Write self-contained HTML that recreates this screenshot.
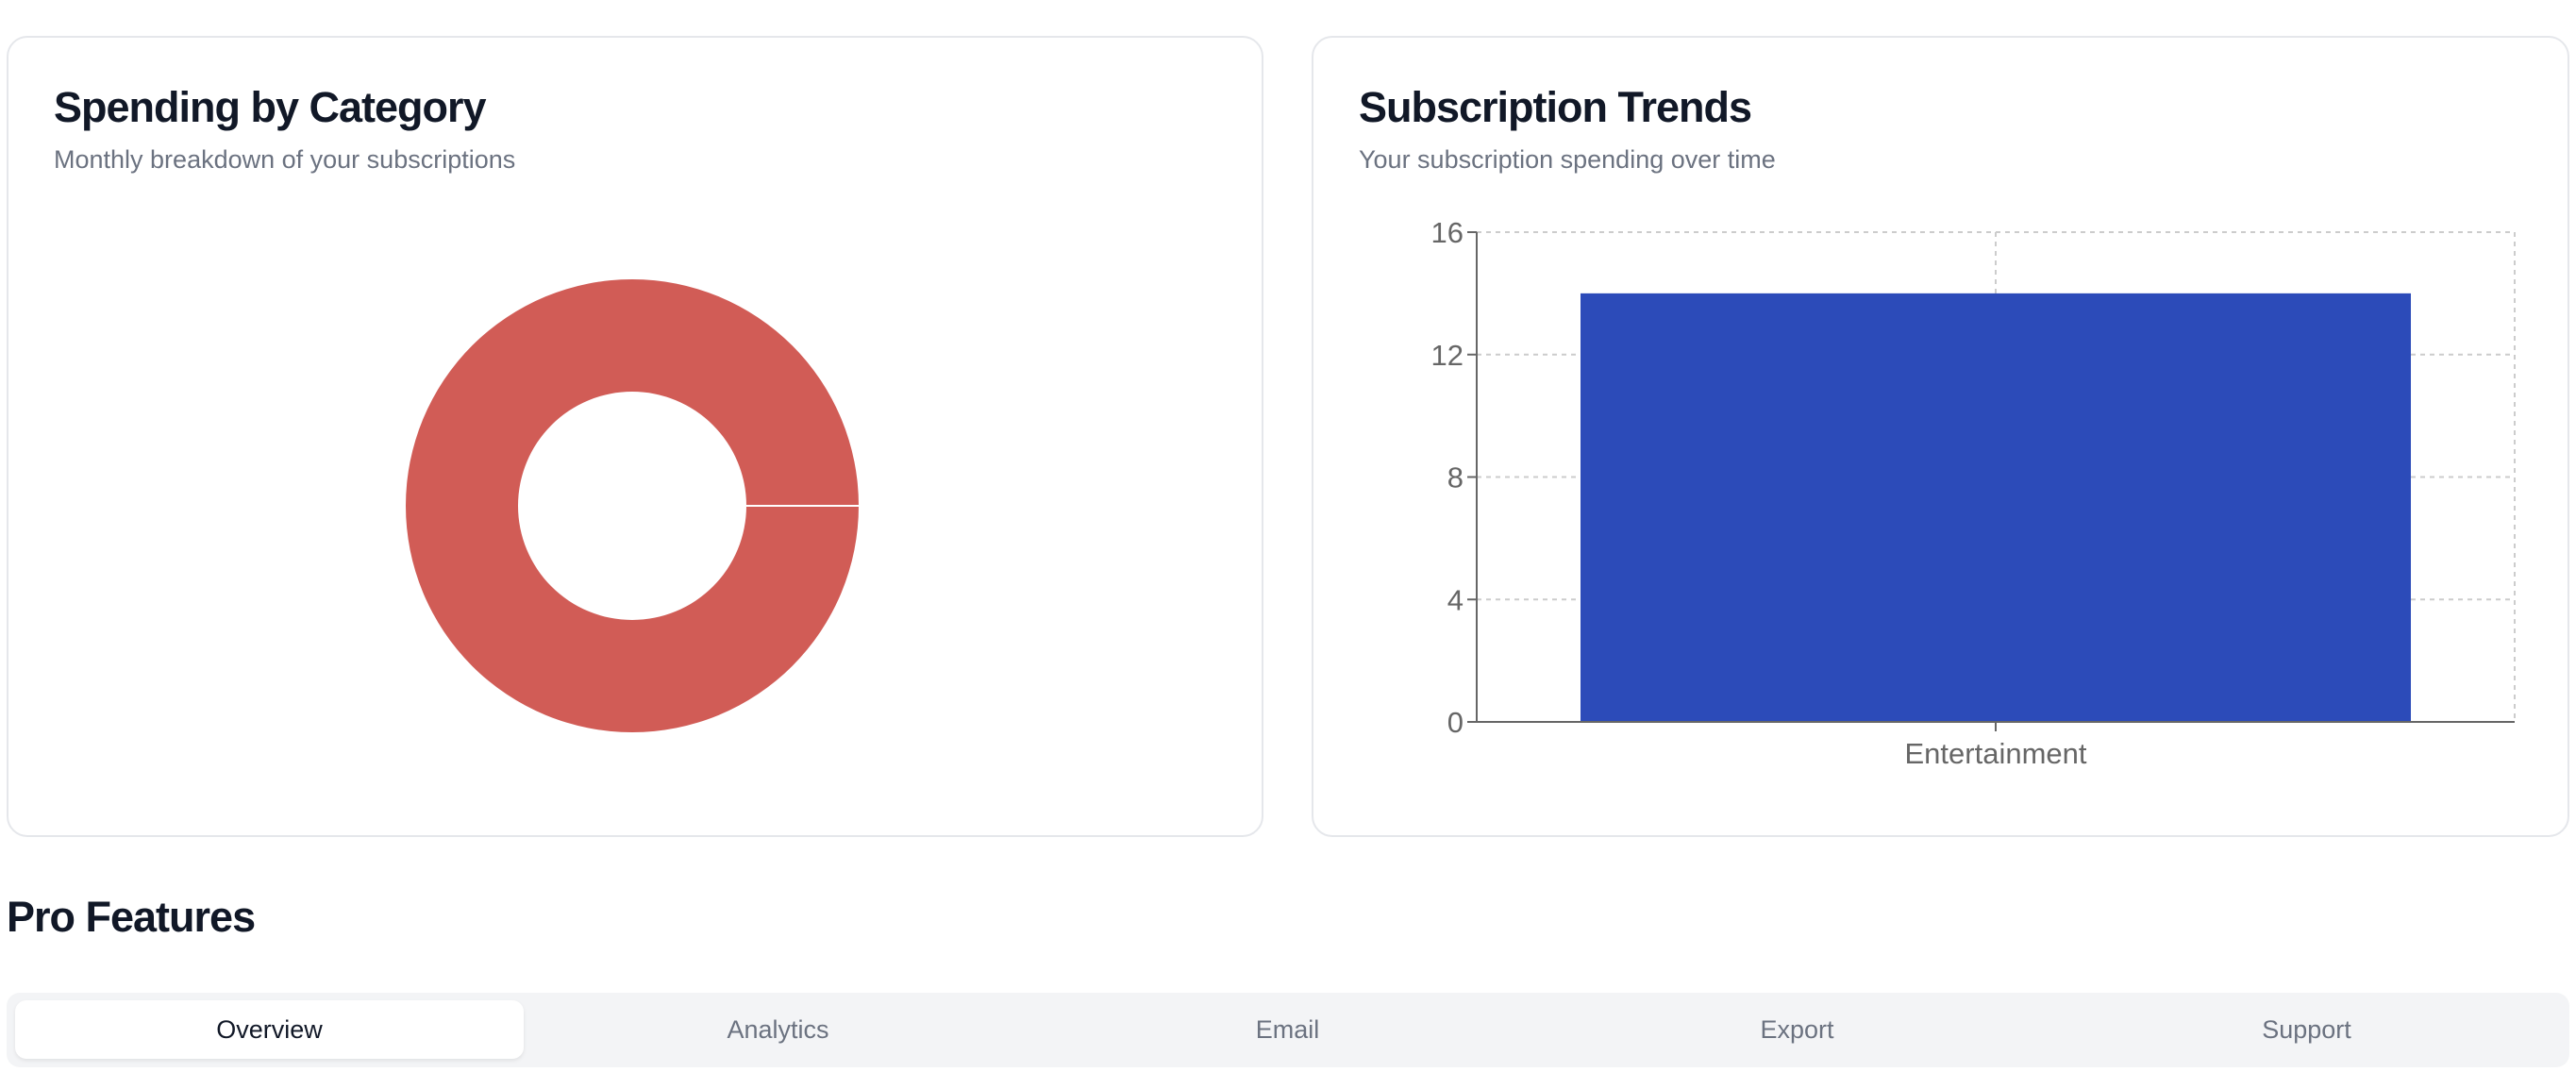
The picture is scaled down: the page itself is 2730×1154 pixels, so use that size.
<!DOCTYPE html>
<html><head><meta charset="utf-8"><style>
body{margin:0;width:2730px;height:1154px;background:#fff;font-family:"Liberation Sans",sans-serif;position:relative;overflow:hidden}
.card{position:absolute;top:38px;height:849px;border:2px solid #e5e7eb;border-radius:22px;background:#fff;box-sizing:border-box}
.t{position:absolute;left:48px;font-size:45px;font-weight:bold;color:#111827;letter-spacing:-1px;margin:0}
.s{position:absolute;left:48px;top:114px;font-size:27px;color:#6b7280}
.tab{position:absolute;top:8px;height:62px;width:539px;line-height:62px;text-align:center;font-size:27px;color:#6b7280}
</style></head><body>
<div class="card" style="left:7px;width:1332px">
<h2 class="t" style="top:48px">Spending by Category</h2>
<div class="s">Monthly breakdown of your subscriptions</div>
</div>
<div class="card" style="left:1390px;width:1333px">
<h2 class="t" style="top:48px">Subscription Trends</h2>
<div class="s">Your subscription spending over time</div>
</div>
<svg id="svg" width="2730" height="1154" style="position:absolute;left:0;top:0"></svg>
<div style="position:absolute;left:7px;top:946px;font-size:45px;font-weight:bold;color:#111827;letter-spacing:-1px">Pro Features</div>
<div style="position:absolute;left:7px;top:1052px;width:2716px;height:79px;background:#f3f4f6;border-radius:14px">
<div class="tab" style="left:9px;background:#fff;border-radius:12px;color:#111827;box-shadow:0 2px 4px rgba(0,0,0,.08)">Overview</div>
<div class="tab" style="left:548px">Analytics</div>
<div class="tab" style="left:1088px">Email</div>
<div class="tab" style="left:1628px">Export</div>
<div class="tab" style="left:2168px">Support</div>
</div>
<script>
const pieCategories=["Entertainment"];
const pieValues=[14];
const barCategories=["Entertainment"];
const barValues=[14];
const yTicks=[0,4,8,12,16];
const NS="http://www.w3.org/2000/svg";
const svg=document.getElementById('svg');
function mk(t,a){const e=document.createElementNS(NS,t);for(const k in a)e.setAttribute(k,a[k]);svg.appendChild(e);return e;}
// donut
const cx=670,cy=536,R=240,r=121;
const tot=pieValues.reduce((a,b)=>a+b,0);let ang=0;
pieValues.forEach((v,i)=>{
  const a0=ang,a1=ang+v/tot*2*Math.PI;ang=a1;
  let p;
  if(v/tot>=0.9999){
    p=`M${cx+R} ${cy}A${R} ${R} 0 1 1 ${cx-R} ${cy}A${R} ${R} 0 1 1 ${cx+R} ${cy}M${cx+r} ${cy}A${r} ${r} 0 1 0 ${cx-r} ${cy}A${r} ${r} 0 1 0 ${cx+r} ${cy}Z`;
  }else{
    const L=(a1-a0)>Math.PI?1:0;
    p=`M${cx+R*Math.cos(a0)} ${cy-R*Math.sin(a0)}A${R} ${R} 0 ${L} 0 ${cx+R*Math.cos(a1)} ${cy-R*Math.sin(a1)}L${cx+r*Math.cos(a1)} ${cy-r*Math.sin(a1)}A${r} ${r} 0 ${L} 1 ${cx+r*Math.cos(a0)} ${cy-r*Math.sin(a0)}Z`;
  }
  const e=mk('path',{d:p,fill:'#d15c56','fill-rule':'evenodd'});
  
  
  const l=mk('line',{x1:cx+r*Math.cos(a0),y1:cy-r*Math.sin(a0),x2:cx+R*Math.cos(a0),y2:cy-R*Math.sin(a0),stroke:'#fff','stroke-width':2});
  
  
});
// bar chart
const X0=1565,X1=2665,Y0=765,Y1=246,ymax=16;
const ys=v=>Y0-(v/ymax)*(Y0-Y1);
const bw=(X1-X0)/barCategories.length;
yTicks.forEach(t=>{
  if(t>0){const g=mk('line',{x1:X0,x2:X1,y1:ys(t),y2:ys(t),stroke:'#ccc','stroke-width':2,'stroke-dasharray':'5 5'});
  }
  const k=mk('line',{x1:X0-10,x2:X0,y1:ys(t),y2:ys(t),stroke:'#666','stroke-width':2});
  
  const tx=mk('text',{x:X0-14,y:ys(t)+11,'text-anchor':'end','font-size':31,fill:'#666','font-family':'Liberation Sans'});
  tx.textContent=t;
  
});
barCategories.forEach((c,i)=>{
  const mx=X0+bw*(i+.5);
  const g=mk('line',{x1:mx,x2:mx,y1:Y1,y2:Y0,stroke:'#ccc','stroke-width':2,'stroke-dasharray':'5 5'});
  
});
const gr=mk('line',{x1:X1,x2:X1,y1:Y1,y2:Y0,stroke:'#ccc','stroke-width':2,'stroke-dasharray':'5 5'});

barCategories.forEach((c,i)=>{
  const pad=bw*0.1,mx=X0+bw*(i+.5);
  const b=mk('rect',{x:X0+bw*i+pad,y:ys(barValues[i]),width:bw-2*pad,height:Y0-ys(barValues[i]),fill:'#2c4bb9'});
  
  const k=mk('line',{x1:mx,x2:mx,y1:Y0,y2:Y0+10,stroke:'#666','stroke-width':2});
  
  const tx=mk('text',{x:mx,y:Y0+44,'text-anchor':'middle','font-size':31,fill:'#666','font-family':'Liberation Sans'});
  tx.textContent=c;
  
});
const ya=mk('line',{x1:X0,x2:X0,y1:Y1,y2:Y0,stroke:'#666','stroke-width':2});

const xa=mk('line',{x1:X0,x2:X1,y1:Y0,y2:Y0,stroke:'#666','stroke-width':2});

</script>
</body></html>
